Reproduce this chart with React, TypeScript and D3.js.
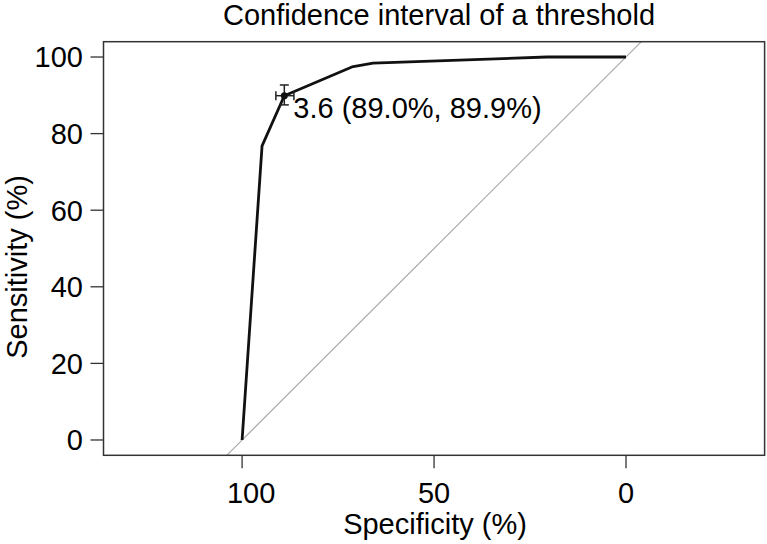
import React from "react";
import * as d3 from "d3";

// ROC curve points (specificity %, sensitivity %)
const specificity = [100, 94.8, 89.0, 71.4, 65.9, 20.6, 0];
const sensitivity = [0, 76.8, 89.9, 97.4, 98.4, 100, 100];

// best threshold and its confidence intervals
const thresholdValue = 3.6;
const thresholdSpec = 89.0;
const thresholdSens = 89.9;
const ciSpec = [86.5, 91.2];
const ciSens = [87.5, 92.7];

const xTicks = [100, 50, 0];
const yTicks = [0, 20, 40, 60, 80, 100];

const titleText = "Confidence interval of a threshold";
const xLabel = "Specificity (%)";
const yLabel = "Sensitivity (%)";

const W = 767;
const H = 544;
const FONT = "'Liberation Sans', Arial, Helvetica, sans-serif";

export default function App() {
  const x = d3.scaleLinear().domain([136.1, -36.1]).range([103.5, 764.6]);
  const y = d3.scaleLinear().domain([-4, 104]).range([455.3, 41.7]);
  const [x0, x1] = x.range();
  const [yb, yt] = y.range();

  const pts: [number, number][] = specificity.map((s, i) => [s, sensitivity[i]]);
  const line = d3
    .line<[number, number]>()
    .x((d) => x(d[0]))
    .y((d) => y(d[1]));

  const px = x(thresholdSpec);
  const py = y(thresholdSens);
  const cap = 4.5;

  return (
    <svg
      width={W}
      height={H}
      style={{ position: "absolute", left: 0, top: 0, background: "#fff" }}
      fontFamily={FONT}
    >
      <rect x={0} y={0} width={W} height={H} fill="#fff" />
      <defs>
        <clipPath id="plotclip">
          <rect x={x0} y={yt} width={x1 - x0} height={yb - yt} />
        </clipPath>
      </defs>

      {/* diagonal */}
      <line
        x1={x(104)}
        y1={y(-4)}
        x2={x(-4)}
        y2={y(104)}
        stroke="#aaa"
        strokeWidth={1.2}
        clipPath="url(#plotclip)"
      />

      {/* ROC curve */}
      <path d={line(pts) || ""} fill="none" stroke="#111" strokeWidth={2.8} strokeLinejoin="round" />

      {/* CI bars */}
      <g stroke="#222" strokeWidth={1.5}>
        <line x1={px} x2={px} y1={y(ciSens[0])} y2={y(ciSens[1])} />
        <line x1={px - cap} x2={px + cap} y1={y(ciSens[0])} y2={y(ciSens[0])} />
        <line x1={px - cap} x2={px + cap} y1={y(ciSens[1])} y2={y(ciSens[1])} />
        <line x1={x(ciSpec[0])} x2={x(ciSpec[1])} y1={py} y2={py} />
        <line x1={x(ciSpec[0])} x2={x(ciSpec[0])} y1={py - cap} y2={py + cap} />
        <line x1={x(ciSpec[1])} x2={x(ciSpec[1])} y1={py - cap} y2={py + cap} />
      </g>
      <circle cx={px} cy={py} r={3.5} fill="#111" />
      <text x={px + 9} y={py + 22} fontSize={29} fill="#000">
        {`${thresholdValue} (${thresholdSpec.toFixed(1)}%, ${thresholdSens.toFixed(1)}%)`}
      </text>

      {/* box */}
      <rect x={x0} y={yt} width={x1 - x0} height={yb - yt} fill="none" stroke="#333" strokeWidth={1.5} />

      {/* x axis */}
      {xTicks.map((t, i) => (
        <g key={"xt" + t}>
          <line x1={x(t)} x2={x(t)} y1={yb} y2={yb + 13} stroke="#333" strokeWidth={1.3} />
          <text x={x(t)} dx={i === 0 ? 9 : 0} y={503} fontSize={29} textAnchor="middle" fill="#000">
            {t}
          </text>
        </g>
      ))}
      <text x={435} y={534} fontSize={29} textAnchor="middle" fill="#000">
        {xLabel}
      </text>

      {/* y axis */}
      {yTicks.map((t) => (
        <g key={"yt" + t}>
          <line x1={x0 - 13} x2={x0} y1={y(t)} y2={y(t)} stroke="#333" strokeWidth={1.3} />
          <text x={83} y={y(t)} dy="0.36em" fontSize={29} textAnchor="end" fill="#000">
            {t}
          </text>
        </g>
      ))}
      <text
        transform={`translate(27, 267) rotate(-90)`}
        fontSize={29}
        textAnchor="middle"
        fill="#000"
      >
        {yLabel}
      </text>

      {/* title */}
      <text x={439} y={25} fontSize={29} textAnchor="middle" fill="#000">
        {titleText}
      </text>
    </svg>
  );
}
